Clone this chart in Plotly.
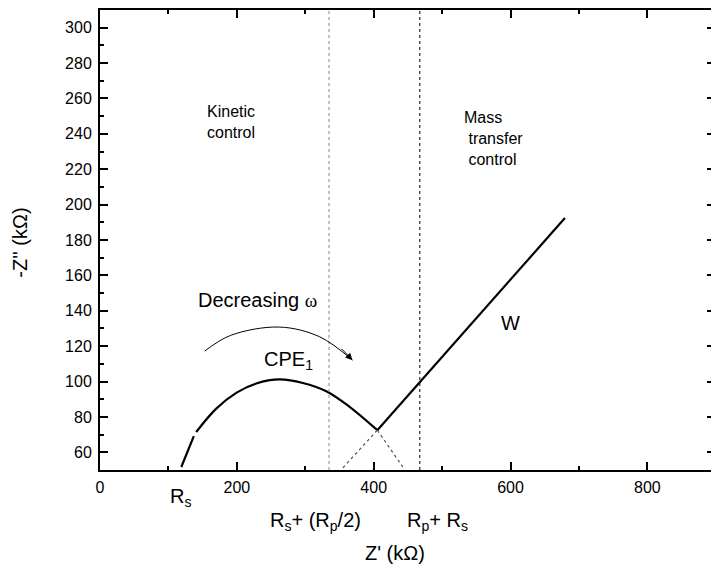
import plotly.graph_objects as go

# Nyquist plot of a Randles-type cell (schematic values in kΩ)
rs_seg_x = [118.8, 137.1]
rs_seg_y = [51.7, 69.1]

arc_x = [140.6, 169.9, 199.1, 228.4, 262.4, 296.5, 330.7, 364.8, 405.3]
arc_y = [71.5, 84.7, 93.6, 98.9, 101.2, 99.2, 94.5, 85.7, 72.5]

warburg_x = [405.3, 679.5]
warburg_y = [72.5, 192.4]

# dotted extrapolations from the knee
ext_left_x = [405.3, 352.0]
ext_left_y = [72.5, 50.0]
ext_right_x = [405.3, 442.7]
ext_right_y = [72.5, 51.7]

# region boundaries
rs_half_rp = 334.7
rp_plus_rs = 467.4

# "decreasing frequency" arrow path
omega_x = [153.0, 191.0, 262.0, 321.0, 369.0]
omega_y = [117.2, 126.1, 130.8, 125.3, 112.1]

x_ticks = [0, 200, 400, 600, 800]
y_ticks = [60, 80, 100, 120, 140, 160, 180, 200, 220, 240, 260, 280, 300]

X_RANGE = [0, 893]
Y_RANGE = [50, 310]

FONT = "Liberation Sans, Arial, sans-serif"

fig = go.Figure()

line_main = dict(color="black", width=2.2)
fig.add_trace(go.Scatter(x=rs_seg_x, y=rs_seg_y, mode="lines", line=line_main))
fig.add_trace(go.Scatter(x=arc_x, y=arc_y, mode="lines",
                         line=dict(color="black", width=2.2, shape="spline")))
fig.add_trace(go.Scatter(x=warburg_x, y=warburg_y, mode="lines", line=line_main))
fig.add_trace(go.Scatter(x=ext_left_x, y=ext_left_y, mode="lines",
                         line=dict(color="#555555", width=1.2, dash="dot")))
fig.add_trace(go.Scatter(x=ext_right_x, y=ext_right_y, mode="lines",
                         line=dict(color="#555555", width=1.2, dash="dot")))
fig.add_trace(go.Scatter(x=[rs_half_rp, rs_half_rp], y=Y_RANGE, mode="lines",
                         line=dict(color="#888888", width=1, dash="dot")))
# right-hand boundary drawn against the mirrored tick axis (same range)
fig.add_trace(go.Scatter(x=[rp_plus_rs, rp_plus_rs], y=Y_RANGE, mode="lines",
                         yaxis="y2", line=dict(color="black", width=1, dash="dot")))
fig.add_trace(go.Scatter(x=omega_x, y=omega_y, mode="lines",
                         line=dict(color="black", width=1, shape="spline")))

annotations = [
    # arrow head on the frequency arc
    dict(x=omega_x[-1], y=omega_y[-1], ax=omega_x[-2] + 30, ay=omega_y[-2] - 6,
         xref="x", yref="y", axref="x", ayref="y", text="", showarrow=True,
         arrowhead=2, arrowsize=1.4, arrowwidth=1, arrowcolor="black"),
    dict(x=140.7, y=146.0, xref="x", yref="y", xanchor="left", yanchor="middle",
         text="Decreasing <span style='font-family:Liberation Serif;font-size:19px'>ω</span>",
         showarrow=False, font=dict(size=20, family=FONT, color="black")),
    dict(x=237.1, y=112.0, xref="x", yref="y", xanchor="left", yanchor="middle",
         text="CPE<sub>1</sub>", showarrow=False,
         font=dict(size=20, family=FONT, color="black")),
    dict(x=600, y=133, xref="x", yref="y", xanchor="center", yanchor="middle",
         text="W", showarrow=False, font=dict(size=20, family=FONT, color="black")),
    dict(x=152.8, y=246.9, xref="x", yref="y", xanchor="left", yanchor="middle",
         align="left", text="Kinetic<br>control", showarrow=False,
         font=dict(size=16, family=FONT, color="black")),
    dict(x=529.6, y=237.4, xref="x", yref="y", xanchor="left", yanchor="middle",
         align="left", text="Mass<br>\u00a0transfer<br>\u00a0control", showarrow=False,
         font=dict(size=16, family=FONT, color="black")),
    dict(x=117.7, y=-0.059, xref="x", yref="paper", xanchor="center", yanchor="middle",
         text="R<sub>s</sub>", showarrow=False,
         font=dict(size=20, family=FONT, color="black")),
    dict(x=244.9, y=-0.113, xref="x", yref="paper", xanchor="left", yanchor="middle",
         text="R<sub>s</sub>+ (R<sub>p</sub>/2)", showarrow=False,
         font=dict(size=20, family=FONT, color="black")),
    dict(x=445.2, y=-0.113, xref="x", yref="paper", xanchor="left", yanchor="middle",
         text="R<sub>p</sub>+ R<sub>s</sub>", showarrow=False,
         font=dict(size=20, family=FONT, color="black")),
    # axis titles
    dict(x=430.5, y=-0.180, xref="x", yref="paper", xanchor="center", yanchor="middle",
         text="Z' (kΩ)", showarrow=False,
         font=dict(size=20, family=FONT, color="black")),
    dict(x=-0.131, y=0.494, xref="paper", yref="paper", xanchor="center", yanchor="middle",
         text="-Z'' (kΩ)", textangle=-90, showarrow=False,
         font=dict(size=20, family=FONT, color="black")),
]

tick_style = dict(ticks="inside", ticklen=8, tickwidth=2, tickcolor="black",
                  showgrid=False, zeroline=False)
label_font = dict(size=16, family=FONT, color="black")

fig.update_layout(
    width=711, height=566,
    margin=dict(l=100, r=0, t=10, b=96),
    paper_bgcolor="white", plot_bgcolor="white",
    showlegend=False,
    annotations=annotations,
    xaxis=dict(range=X_RANGE, tickvals=x_ticks, tickfont=label_font,
               showline=True, linewidth=2, linecolor="black", mirror="ticks",
               ticklabelstandoff=2,
               minor=dict(dtick=100, tick0=0, ticks="inside", ticklen=4,
                          tickwidth=2, tickcolor="black", showgrid=False),
               **tick_style),
    yaxis=dict(range=Y_RANGE, tickvals=y_ticks, tickfont=label_font,
               showline=True, linewidth=2, linecolor="black", mirror=False,
               ticklabelstandoff=3,
               minor=dict(dtick=10, tick0=0, ticks="inside", ticklen=4,
                          tickwidth=2, tickcolor="black", showgrid=False),
               **tick_style),
    # right-hand tick marks only; the frame edge itself lies just past the page
    yaxis2=dict(range=Y_RANGE, tickvals=y_ticks, overlaying="y", side="right",
                anchor="x", showline=False, showticklabels=False,
                ticks="inside", ticklen=4, tickwidth=2, tickcolor="black",
                showgrid=False, zeroline=False),
)

fig.write_html("out.html")
